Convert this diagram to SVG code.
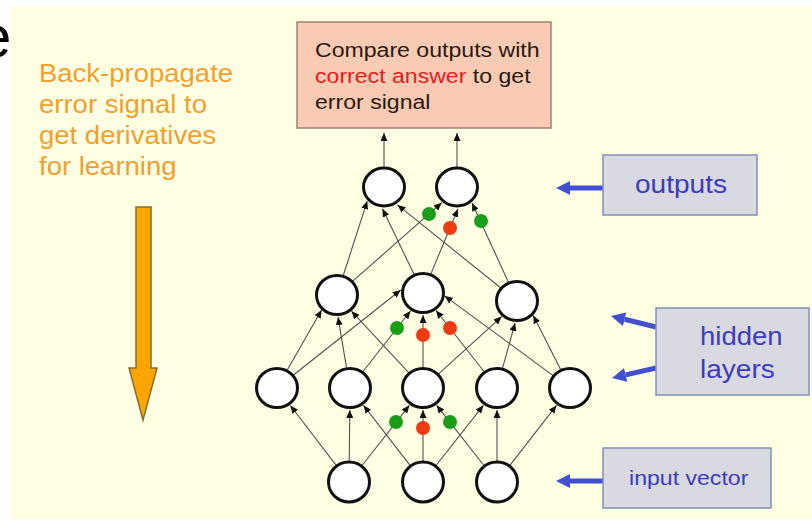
<svg xmlns="http://www.w3.org/2000/svg" width="812" height="524" viewBox="0 0 812 524">
<defs>
<style>
.edge{stroke:#505050;stroke-width:1.1;fill:none;marker-end:url(#ah)}
.node{fill:#ffffff;stroke:#111111;stroke-width:3}
.g{fill:#1a9e1a}
.r{fill:#f03a12}
.lbl{fill:#d9d9e1;stroke:#8090b4;stroke-width:1.5}
.bt{font-family:"Liberation Sans",Arial,sans-serif;fill:#3c3cc0}
.ba{stroke:#4050d0;stroke-width:5;fill:none;marker-end:url(#bh)}
.ot{font-family:"Liberation Sans",Arial,sans-serif;font-size:25px;fill:#f0a030}
.ct{font-family:"Liberation Sans",Arial,sans-serif;font-size:21px;fill:#2a1a10}
</style>
<marker id="ah" markerUnits="userSpaceOnUse" markerWidth="8" markerHeight="7" refX="8" refY="3.5" orient="auto"><path d="M0,0 L8,3.5 L0,7 z" fill="#111"/></marker>
<marker id="bh" markerUnits="userSpaceOnUse" markerWidth="14" markerHeight="14" refX="0" refY="7" orient="auto"><path d="M0,0 L14,7 L0,14 z" fill="#4050d0"/></marker>
</defs>
<rect x="0" y="0" width="812" height="524" fill="#ffffff"/>
<text x="-22" y="57" font-family="'Liberation Sans',Arial,sans-serif" font-size="60" fill="#000">e</text>
<rect x="10" y="6" width="802" height="513" fill="#ffffe4"/>

<g id="backprop-text">
<g transform="matrix(1.1,0,0,1,39,0)">
<text class="ot" x="0" y="82">Back-propagate</text>
<text class="ot" x="0" y="113">error signal to</text>
<text class="ot" x="0" y="144">get derivatives</text>
<text class="ot" x="0" y="175">for learning</text>
</g>
</g>
<g id="backprop-arrow">
<polygon points="136,207 151,207 151,368 157,368 143,420 129,368 136,368" fill="#ffa500" stroke="#8b6b2b" stroke-width="1.5"/>
</g>

<g id="compare-box">
<rect x="297" y="22" width="254" height="106" fill="#f9cbb4" stroke="#a08272" stroke-width="1.5"/>
<g transform="matrix(1.1,0,0,1,315,0)">
<text class="ct" x="0" y="57">Compare outputs with</text>
<text class="ct" x="0" y="83"><tspan fill="#e02020">correct answer</tspan> to get</text>
<text class="ct" x="0" y="109">error signal</text>
</g>
</g>

<g id="connectors">
<line class="edge" x1="384" y1="168" x2="384" y2="133"/>
<line class="edge" x1="457" y1="168" x2="457" y2="133"/>
<line class="edge" x1="336.2" y1="465.3" x2="290.4" y2="405.5"/>
<line class="edge" x1="349.2" y1="461" x2="349.8" y2="410"/>
<line class="edge" x1="362" y1="465.5" x2="409.4" y2="405.3"/>
<line class="edge" x1="410.1" y1="465.4" x2="363.5" y2="405.4"/>
<line class="edge" x1="423" y1="461" x2="423" y2="410"/>
<line class="edge" x1="436" y1="465.5" x2="483.4" y2="405.3"/>
<line class="edge" x1="484" y1="465.5" x2="436.6" y2="405.3"/>
<line class="edge" x1="497" y1="461" x2="497" y2="410"/>
<line class="edge" x1="509.9" y1="465.4" x2="556.5" y2="405.4"/>
<line class="edge" x1="287.4" y1="369.8" x2="321.6" y2="310.1"/>
<line class="edge" x1="293.5" y1="375" x2="400.7" y2="290"/>
<line class="edge" x1="346.5" y1="367.3" x2="338" y2="317.1"/>
<line class="edge" x1="363" y1="371.5" x2="410.5" y2="311"/>
<line class="edge" x1="408.7" y1="372.6" x2="351.5" y2="311.2"/>
<line class="edge" x1="423" y1="367" x2="423" y2="315"/>
<line class="edge" x1="438.6" y1="373.9" x2="501.7" y2="316.6"/>
<line class="edge" x1="484" y1="371.5" x2="436" y2="310.5"/>
<line class="edge" x1="502.6" y1="367.8" x2="515.1" y2="323"/>
<line class="edge" x1="553.1" y1="375.6" x2="444.7" y2="295.9"/>
<line class="edge" x1="560.5" y1="369.3" x2="533.3" y2="315.6"/>
<line class="edge" x1="343.4" y1="275" x2="367.2" y2="201.1"/>
<line class="edge" x1="352.8" y1="281.1" x2="441.8" y2="202.7"/>
<line class="edge" x1="413.9" y1="274.1" x2="382.5" y2="208.8"/>
<line class="edge" x1="431" y1="273.6" x2="457.9" y2="209"/>
<line class="edge" x1="500.6" y1="287.8" x2="397.5" y2="204.9"/>
<line class="edge" x1="508.3" y1="281.9" x2="472" y2="203"/>
</g>

<g id="weight-dots">
<circle class="g" cx="429" cy="214" r="7"/>
<circle class="r" cx="450" cy="228" r="7"/>
<circle class="g" cx="481" cy="221" r="7"/>
<circle class="g" cx="397" cy="328" r="7"/>
<circle class="r" cx="423" cy="335" r="7"/>
<circle class="r" cx="450" cy="328" r="7"/>
<circle class="g" cx="396" cy="422" r="7"/>
<circle class="r" cx="423" cy="428" r="7"/>
<circle class="g" cx="450" cy="422" r="7"/>
</g>

<g id="out1"><ellipse class="node" cx="384" cy="187" rx="20.5" ry="19"/></g>
<g id="out2"><ellipse class="node" cx="457" cy="187" rx="20.5" ry="19"/></g>
<g id="h2a"><ellipse class="node" cx="337" cy="295" rx="20.5" ry="19.5"/></g>
<g id="h2b"><ellipse class="node" cx="423" cy="293" rx="20.5" ry="19.5"/></g>
<g id="h2c"><ellipse class="node" cx="517" cy="301" rx="20.5" ry="19.5"/></g>
<g id="h1a"><ellipse class="node" cx="277" cy="388" rx="20.5" ry="19.5"/></g>
<g id="h1b"><ellipse class="node" cx="350" cy="388" rx="20.5" ry="19.5"/></g>
<g id="h1c"><ellipse class="node" cx="423" cy="388" rx="20.5" ry="19.5"/></g>
<g id="h1d"><ellipse class="node" cx="497" cy="388" rx="20.5" ry="19.5"/></g>
<g id="h1e"><ellipse class="node" cx="570" cy="388" rx="20.5" ry="19.5"/></g>
<g id="in1"><ellipse class="node" cx="349" cy="482" rx="20.5" ry="20"/></g>
<g id="in2"><ellipse class="node" cx="423" cy="482" rx="20.5" ry="20"/></g>
<g id="in3"><ellipse class="node" cx="497" cy="482" rx="20.5" ry="20"/></g>

<g id="label-outputs">
<line class="ba" x1="603" y1="188" x2="570" y2="188"/>
<rect class="lbl" x="603" y="155" width="154" height="60"/>
<text class="bt" x="0" y="193" font-size="25.5" transform="matrix(1.1,0,0,1,635,0)">outputs</text>
</g>
<g id="label-hidden">
<line class="ba" x1="656" y1="327" x2="624.6" y2="319.3"/>
<line class="ba" x1="656" y1="368" x2="625.7" y2="374.9"/>
<rect class="lbl" x="656" y="308" width="153" height="87"/>
<g transform="matrix(1.1,0,0,1,700,0)">
<text class="bt" x="0" y="345" font-size="25">hidden</text>
<text class="bt" x="0" y="378" font-size="25.5">layers</text>
</g>
</g>
<g id="label-input">
<line class="ba" x1="603" y1="481" x2="570" y2="481"/>
<rect class="lbl" x="603" y="448" width="168" height="60"/>
<text class="bt" x="0" y="485" font-size="21" transform="matrix(1.1,0,0,1,629,0)">input vector</text>
</g>
</svg>
